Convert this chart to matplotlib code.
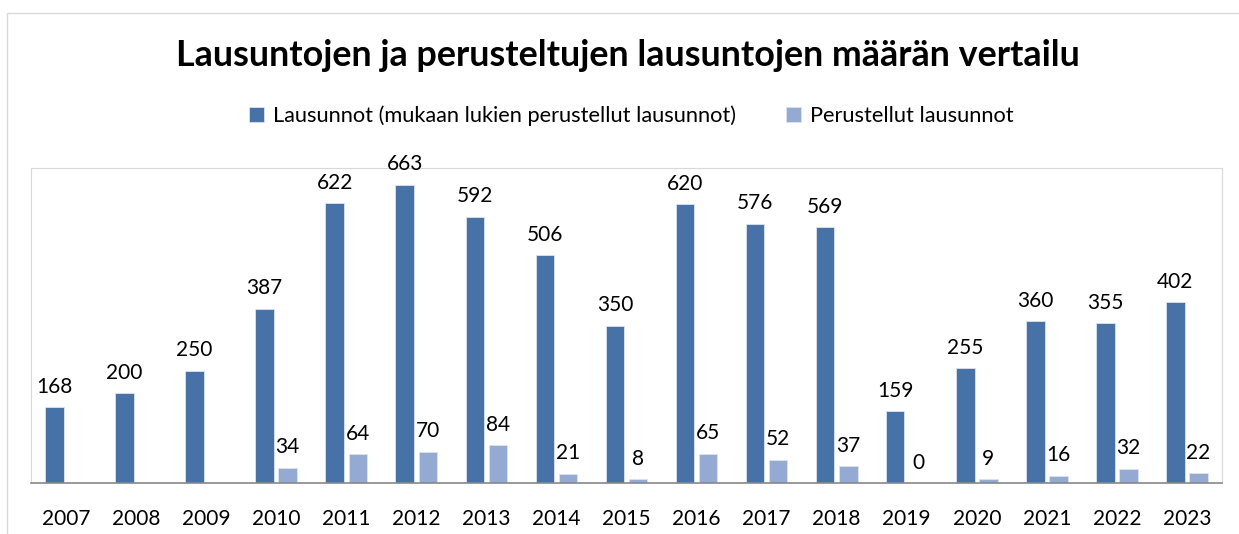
import numpy as np
from matplotlib import pyplot as plt
from matplotlib.patches import Rectangle

years = ['2007', '2008', '2009', '2010', '2011', '2012', '2013', '2014', '2015',
         '2016', '2017', '2018', '2019', '2020', '2021', '2022', '2023']
lausunnot = [168, 200, 250, 387, 622, 663, 592, 506, 350, 620, 576, 569, 159, 255, 360, 355, 402]
perustellut = [np.nan, np.nan, np.nan, 34, 64, 70, 84, 21, 8, 65, 52, 37, 0, 9, 16, 32, 22]

dark = '#4672A7'
light = '#94AAD3'

plt.rcParams['font.family'] = ['Lato', 'DejaVu Sans']

fig = plt.figure(figsize=(12.39, 5.34), dpi=100)
fig.patches.append(Rectangle((7 / 1239, -0.1), 1.2, 1 - 13 / 534 + 0.1, transform=fig.transFigure,
                             facecolor='none', edgecolor='#D9D9D9', linewidth=1))

ax = fig.add_axes([31 / 1239, 1 - 483 / 534, (1222 - 31) / 1239, (483 - 168) / 534])
x = np.arange(len(years))
w = 0.265
off = 0.165
b1 = ax.bar(x - off, lausunnot, w, color=dark, edgecolor='#DCE3EE', linewidth=0.6,
            label='Lausunnot (mukaan lukien perustellut lausunnot)')
b2 = ax.bar(x + off, perustellut, w, color=light, edgecolor='#DCE3EE', linewidth=0.6,
            label='Perustellut lausunnot')

for xi, v in zip(x, lausunnot):
    ax.annotate(str(v), (xi - off, v), xytext=(0, 7.5), textcoords='offset points',
                ha='center', va='bottom', fontsize=15)
for xi, v in zip(x, perustellut):
    if not np.isnan(v):
        ax.annotate(str(int(v)), (xi + off, v), xytext=(0, 7.5), textcoords='offset points',
                    ha='center', va='bottom', fontsize=15)

ax.set_xlim(-0.5, len(years) - 0.5)
ax.set_ylim(0, 700)
ax.set_yticks([])
ax.set_xticks(x)
ax.set_xticklabels(years, fontsize=15)
ax.tick_params(axis='x', length=0, pad=19)
for s in ['top', 'left', 'right']:
    ax.spines[s].set_color('#D9D9D9')
ax.spines['bottom'].set_color('#888888')
ax.spines['bottom'].set_linewidth(1.2)

fig.text(628 / 1239, 1 - 55 / 534, 'Lausuntojen ja perusteltujen lausuntojen määrän vertailu',
         ha='center', va='center', fontsize=25.8, fontweight='bold')
fig.legend(handles=[b1, b2], loc='center', bbox_to_anchor=(631 / 1239, 1 - 116 / 534), ncol=2,
           frameon=False, fontsize=15.7, handlelength=0.7, handleheight=0.7, handletextpad=0.4,
           columnspacing=2.3)

plt.savefig('out.png', dpi=100)
